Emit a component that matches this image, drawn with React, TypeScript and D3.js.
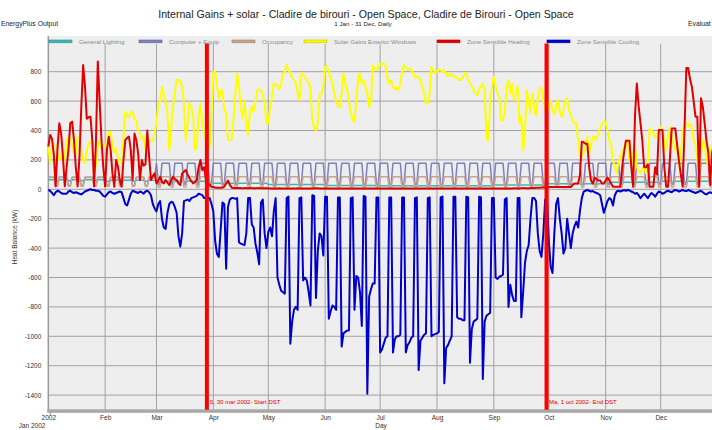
import React, { useRef, useEffect } from "react";
import * as d3 from "d3";

// bottom tick labels, the first one stands for Jan
const monthLabels = ["2002", "Feb", "Mar", "Apr", "May", "Jun", "Jul", "Aug", "Sep", "Oct", "Nov", "Dec"];
const yTicks = [800, 600, 400, 200, 0, -200, -400, -600, -800, -1000, -1200, -1400];

// daily values (kW), one row per month
const generalLighting = [
  [65, 65, 65, 65, 58, 58, 65, 65, 65, 65, 65, 58, 58, 65, 65, 65, 65, 65, 58, 58, 65, 65, 65, 65, 65, 58, 58, 65, 65, 65, 65],
  [62, 55, 55, 62, 62, 62, 62, 62, 55, 55, 62, 62, 62, 62, 62, 55, 55, 62, 62, 62, 62, 62, 55, 55, 62, 62, 62, 62],
  [55, 48, 48, 55, 55, 55, 55, 55, 48, 48, 55, 55, 55, 55, 55, 48, 48, 55, 55, 55, 55, 55, 48, 48, 55, 55, 55, 55, 55, 48, 48],
  [42, 42, 42, 42, 42, 36, 36, 42, 42, 42, 42, 42, 36, 36, 42, 42, 42, 42, 42, 36, 36, 42, 42, 42, 42, 42, 36, 36, 42, 42],
  [32, 32, 32, 27, 27, 32, 32, 32, 32, 32, 27, 27, 32, 32, 32, 32, 32, 27, 27, 32, 32, 32, 32, 32, 27, 27, 32, 32, 32, 32, 32],
  [22, 22, 26, 26, 26, 26, 26, 22, 22, 26, 26, 26, 26, 26, 22, 22, 26, 26, 26, 26, 26, 22, 22, 26, 26, 26, 26, 26, 22, 22],
  [24, 24, 24, 24, 24, 20, 20, 24, 24, 24, 24, 24, 20, 20, 24, 24, 24, 24, 24, 20, 20, 24, 24, 24, 24, 24, 20, 20, 24, 24, 24],
  [25, 25, 21, 21, 25, 25, 25, 25, 25, 21, 21, 25, 25, 25, 25, 25, 21, 21, 25, 25, 25, 25, 25, 21, 21, 25, 25, 25, 25, 25, 21],
  [25, 30, 30, 30, 30, 30, 25, 25, 30, 30, 30, 30, 30, 25, 25, 30, 30, 30, 30, 30, 25, 25, 30, 30, 30, 30, 30, 25, 25, 30],
  [38, 38, 38, 38, 32, 32, 38, 38, 38, 38, 38, 32, 32, 38, 38, 38, 38, 38, 32, 32, 38, 38, 38, 38, 38, 32, 32, 38, 38, 38, 38],
  [48, 42, 42, 48, 48, 48, 48, 48, 42, 42, 48, 48, 48, 48, 48, 42, 42, 48, 48, 48, 48, 48, 42, 42, 48, 48, 48, 48, 48, 42],
  [48, 55, 55, 55, 55, 55, 48, 48, 55, 55, 55, 55, 55, 48, 48, 55, 55, 55, 55, 55, 48, 48, 55, 55, 55, 55, 55, 48, 48, 55, 55],
];

const computerEquip = [
  [82, 82, 82, 82, 25, 25, 82, 82, 82, 82, 82, 25, 25, 82, 82, 82, 82, 82, 25, 25, 82, 82, 82, 82, 82, 25, 25, 82, 82, 82, 82],
  [82, 25, 25, 82, 82, 82, 82, 82, 25, 25, 82, 82, 82, 82, 82, 25, 25, 82, 82, 82, 82, 82, 25, 25, 82, 82, 82, 82],
  [178, 35, 35, 178, 178, 178, 178, 178, 35, 35, 178, 178, 178, 178, 178, 35, 35, 178, 178, 178, 178, 178, 35, 35, 178, 178, 178, 178, 178, 35, 35],
  [178, 178, 178, 178, 178, 35, 35, 178, 178, 178, 178, 178, 35, 35, 178, 178, 178, 178, 178, 35, 35, 178, 178, 178, 178, 178, 35, 35, 178, 178],
  [178, 178, 178, 35, 35, 178, 178, 178, 178, 178, 35, 35, 178, 178, 178, 178, 178, 35, 35, 178, 178, 178, 178, 178, 35, 35, 178, 178, 178, 178, 178],
  [35, 35, 178, 178, 178, 178, 178, 35, 35, 178, 178, 178, 178, 178, 35, 35, 178, 178, 178, 178, 178, 35, 35, 178, 178, 178, 178, 178, 35, 35],
  [178, 178, 178, 178, 178, 35, 35, 178, 178, 178, 178, 178, 35, 35, 178, 178, 178, 178, 178, 35, 35, 178, 178, 178, 178, 178, 35, 35, 178, 178, 178],
  [178, 178, 35, 35, 178, 178, 178, 178, 178, 35, 35, 178, 178, 178, 178, 178, 35, 35, 178, 178, 178, 178, 178, 35, 35, 178, 178, 178, 178, 178, 35],
  [35, 178, 178, 178, 178, 178, 35, 35, 178, 178, 178, 178, 178, 35, 35, 178, 178, 178, 178, 178, 35, 35, 178, 178, 178, 178, 178, 35, 35, 178],
  [178, 178, 178, 178, 35, 35, 178, 178, 178, 178, 178, 35, 35, 178, 178, 178, 178, 178, 35, 35, 178, 178, 178, 178, 178, 35, 35, 178, 178, 178, 178],
  [178, 35, 35, 178, 178, 178, 178, 178, 35, 35, 178, 178, 178, 178, 178, 35, 35, 178, 178, 178, 178, 178, 35, 35, 178, 178, 178, 178, 178, 35],
  [35, 178, 178, 178, 178, 178, 35, 35, 178, 178, 178, 178, 178, 35, 35, 178, 178, 178, 178, 178, 35, 35, 178, 178, 178, 178, 178, 35, 35, 178, 178],
];

const occupancy = [
  [80, 80, 80, 80, 20, 20, 80, 80, 80, 80, 80, 20, 20, 80, 80, 80, 80, 80, 20, 20, 80, 80, 80, 80, 80, 20, 20, 80, 80, 80, 80],
  [80, 20, 20, 80, 80, 80, 80, 80, 20, 20, 80, 80, 80, 80, 80, 20, 20, 80, 80, 80, 80, 80, 20, 20, 80, 80, 80, 80],
  [85, 15, 15, 85, 85, 85, 85, 85, 15, 15, 85, 85, 85, 85, 85, 15, 15, 85, 85, 85, 85, 85, 15, 15, 85, 85, 85, 85, 85, 15, 15],
  [85, 85, 85, 85, 85, 15, 15, 85, 85, 85, 85, 85, 15, 15, 85, 85, 85, 85, 85, 15, 15, 85, 85, 85, 85, 85, 15, 15, 85, 85],
  [85, 85, 85, 15, 15, 85, 85, 85, 85, 85, 15, 15, 85, 85, 85, 85, 85, 15, 15, 85, 85, 85, 85, 85, 15, 15, 85, 85, 85, 85, 85],
  [15, 15, 85, 85, 85, 85, 85, 15, 15, 85, 85, 85, 85, 85, 15, 15, 85, 85, 85, 85, 85, 15, 15, 85, 85, 85, 85, 85, 15, 15],
  [85, 85, 85, 85, 85, 15, 15, 85, 85, 85, 85, 85, 15, 15, 85, 85, 85, 85, 85, 15, 15, 85, 85, 85, 85, 85, 15, 15, 85, 85, 85],
  [85, 85, 15, 15, 85, 85, 85, 85, 85, 15, 15, 85, 85, 85, 85, 85, 15, 15, 85, 85, 85, 85, 85, 15, 15, 85, 85, 85, 85, 85, 15],
  [15, 85, 85, 85, 85, 85, 15, 15, 85, 85, 85, 85, 85, 15, 15, 85, 85, 85, 85, 85, 15, 15, 85, 85, 85, 85, 85, 15, 15, 85],
  [85, 85, 85, 85, 15, 15, 85, 85, 85, 85, 85, 15, 15, 85, 85, 85, 85, 85, 15, 15, 85, 85, 85, 85, 85, 15, 15, 85, 85, 85, 85],
  [85, 15, 15, 85, 85, 85, 85, 85, 15, 15, 85, 85, 85, 85, 85, 15, 15, 85, 85, 85, 85, 85, 15, 15, 85, 85, 85, 85, 85, 15],
  [15, 85, 85, 85, 85, 85, 15, 15, 85, 85, 85, 85, 85, 15, 15, 85, 85, 85, 85, 85, 15, 15, 85, 85, 85, 85, 85, 15, 15, 85, 85],
];

const solarGains = [
  [300, 180, 290, 310, 300, 250, 200, 220, 270, 200, 330, 358, 350, 300, 250, 240, 358, 350, 250, 200, 180, 270, 310, 320, 300, 150, 160, 300, 330, 280, 300],
  [290, 320, 392, 392, 300, 250, 280, 220, 180, 176, 350, 528, 500, 490, 520, 528, 480, 470, 400, 380, 340, 358, 270, 267, 330, 335, 330, 380],
  [448, 580, 600, 698, 650, 600, 520, 267, 400, 562, 650, 743, 743, 740, 700, 585, 335, 450, 585, 560, 495, 267, 300, 500, 585, 450, 380, 330, 300, 290, 500],
  [800, 800, 700, 620, 675, 670, 540, 520, 335, 335, 340, 470, 650, 789, 700, 560, 480, 600, 450, 369, 520, 560, 530, 600, 675, 680, 675, 650, 585, 448],
  [450, 560, 620, 721, 710, 700, 680, 720, 789, 800, 845, 812, 789, 760, 740, 720, 650, 607, 789, 780, 760, 745, 720, 700, 470, 420, 400, 450, 650, 650, 700],
  [834, 834, 800, 760, 721, 650, 600, 562, 562, 650, 789, 720, 675, 600, 520, 470, 460, 600, 760, 789, 720, 740, 700, 650, 562, 600, 845, 820, 812, 830],
  [856, 850, 856, 834, 760, 720, 740, 700, 680, 690, 675, 720, 800, 845, 830, 812, 820, 812, 790, 760, 766, 766, 740, 700, 650, 585, 585, 650, 834, 812, 789],
  [800, 812, 812, 800, 812, 790, 770, 789, 780, 770, 766, 760, 743, 743, 760, 789, 789, 750, 720, 700, 675, 650, 640, 680, 700, 720, 675, 358, 330, 600, 700],
  [765, 700, 650, 630, 470, 470, 520, 700, 743, 650, 720, 607, 650, 700, 450, 500, 267, 400, 675, 600, 520, 650, 560, 500, 620, 687, 687, 600, 560, 520],
  [580, 600, 540, 510, 560, 607, 520, 494, 540, 600, 619, 540, 500, 470, 448, 450, 330, 222, 222, 250, 300, 358, 244, 300, 358, 358, 340, 380, 420, 440, 460],
  [460, 400, 335, 300, 200, 150, 108, 180, 220, 260, 280, 290, 335, 200, 150, 250, 300, 153, 120, 110, 140, 150, 108, 200, 414, 400, 380, 358, 370, 400],
  [425, 400, 330, 267, 350, 420, 380, 300, 267, 300, 153, 250, 380, 448, 448, 430, 448, 420, 335, 300, 200, 108, 250, 335, 300, 200, 150, 250, 300, 330, 280],
];

const zoneHeating = [
  [290, 370, 345, 240, 20, 270, 450, 380, 220, 20, 150, 270, 450, 460, 335, 150, 20, 220, 560, 845, 700, 480, 490, 494, 335, 20, 330, 870, 600, 335, 150],
  [20, 270, 358, 267, 108, 18, 199, 154, 63, 18, 199, 335, 350, 358, 267, 63, 380, 335, 244, 63, 199, 160, 170, 400, 222, 63, 90, 108],
  [40, 60, 86, 50, 40, 63, 45, 29, 60, 86, 70, 63, 40, 29, 108, 120, 131, 100, 74, 55, 40, 50, 63, 150, 199, 130, 150, 63, 40, 30, 18],
  [15, 12, 10, 10, 10, 10, 20, 40, 60, 30, 12, 8, 8, 9, 8, 8, 7, 8, 8, 7, 8, 8, 7, 7, 8, 8, 7, 7, 8, 7],
  [7, 6, 6, 5, 6, 6, 7, 6, 5, 5, 6, 6, 5, 5, 6, 6, 7, 6, 6, 5, 5, 6, 6, 5, 6, 7, 8, 7, 6, 6, 5],
  [5, 5, 6, 5, 5, 5, 6, 6, 5, 5, 5, 5, 5, 6, 6, 5, 5, 5, 5, 5, 5, 6, 5, 5, 5, 5, 5, 5, 5, 5],
  [5, 5, 5, 5, 5, 5, 5, 5, 5, 5, 5, 5, 5, 5, 5, 5, 5, 5, 5, 5, 5, 5, 5, 5, 5, 5, 5, 5, 5, 5, 5],
  [5, 5, 5, 5, 5, 6, 5, 5, 5, 5, 5, 5, 5, 5, 5, 5, 5, 5, 5, 5, 5, 6, 5, 5, 5, 5, 5, 5, 5, 6, 5],
  [5, 5, 6, 6, 6, 6, 5, 5, 6, 6, 6, 7, 7, 6, 6, 8, 9, 8, 7, 7, 8, 8, 9, 10, 10, 10, 12, 12, 12, 14],
  [15, 15, 15, 15, 15, 15, 15, 15, 15, 15, 15, 15, 15, 30, 40, 40, 40, 100, 324, 320, 310, 310, 150, 60, 40, 80, 70, 60, 60, 40, 40],
  [60, 80, 60, 40, 18, 18, 18, 18, 18, 150, 250, 330, 330, 330, 150, 18, 500, 720, 565, 450, 330, 150, 150, 170, 18, 18, 18, 150, 100, 403],
  [403, 403, 150, 18, 18, 200, 413, 413, 413, 300, 190, 100, 18, 400, 825, 825, 750, 700, 600, 494, 494, 18, 620, 560, 450, 330, 250, 30, 250, 300, 250],
];

const zoneCooling = [
  [-5, -10, -25, -40, -20, -10, -15, -25, -30, -30, -30, -15, -10, -20, -25, -20, -25, -30, -35, -25, -15, -10, -5, 0, -5, -5, -10, -10, -15, -30, -45],
  [-50, -35, -20, -15, -25, -30, -25, -20, -15, -20, -60, -100, -110, -70, -30, -10, -15, -20, -25, -15, -20, -30, -15, -10, -20, -40, -100, -130],
  [-150, -100, -80, -200, -260, -270, -160, -100, -85, -90, -120, -160, -320, -390, -300, -80, -75, -70, -80, -60, -55, -50, -45, -30, -35, -40, -60, -60, -55, -60, -100],
  [-150, -350, -440, -460, -280, -90, -100, -540, -120, -70, -60, -60, -65, -60, -360, -370, -375, -380, -300, -60, -60, -240, -260, -370, -430, -510, -90, -70, -300, -400],
  [-290, -260, -320, -150, -60, -600, -650, -690, -700, -710, -60, -50, -1050, -900, -820, -800, -820, -60, -55, -620, -600, -620, -700, -790, -40, -45, -740, -420, -300, -320, -450],
  [-50, -50, -880, -830, -790, -800, -820, -55, -55, -1070, -980, -970, -960, -960, -60, -55, -820, -590, -600, -700, -930, -45, -50, -1390, -730, -680, -640, -640, -55, -55],
  [-1110, -1090, -1050, -1010, -1000, -55, -55, -1110, -1020, -1000, -1000, -990, -55, -55, -1110, -1060, -1040, -1010, -1000, -60, -55, -1230, -1030, -1010, -990, -980, -60, -55, -1000, -990, -985],
  [-980, -970, -55, -50, -1320, -1080, -1060, -1030, -1000, -50, -50, -870, -880, -880, -890, -890, -50, -55, -1180, -950, -900, -890, -880, -50, -55, -1290, -900, -860, -850, -840, -60],
  [-60, -600, -610, -595, -590, -580, -70, -60, -800, -650, -720, -760, -760, -60, -60, -870, -700, -500, -420, -380, -200, -60, -60, -80, -300, -420, -460, -300, -70, -80],
  [-350, -527, -570, -300, -100, -60, -200, -300, -437, -400, -200, -300, -400, -300, -250, -220, -260, -145, -60, -16, -10, -5, -10, -15, -12, -20, -25, -30, -40, -100, -160],
  [-120, -80, -60, -70, -110, -40, -15, -10, -15, -10, -5, -10, -5, -8, -15, -20, -30, -25, -40, -60, -45, -30, -45, -60, -40, -25, -35, -50, -30, -15],
  [-20, -30, -25, -15, -10, -15, -20, -10, -5, -8, -15, -10, -5, -10, -12, -5, -10, -15, -20, -25, -20, -15, -10, -20, -30, -35, -25, -20, -25, -30, -20],
];

const seriesNames = [
  "General Lighting",
  "Computer + Equip",
  "Occupancy",
  "Solar Gains Exterior Windows",
  "Zone Sensible Heating",
  "Zone Sensible Cooling",
];

// DST markers, where the red bars sit in the picture
const dstDates = [new Date(2002, 2, 28, 12), new Date(2002, 8, 29, 18)];
const dstLabels = ["S, 30 mar 2002- Start DST", "Ma, 1 oct 2002- End DST"];

// styling
const font = "'Liberation Sans', Arial, sans-serif";
const colors = ["#3cb8b4", "#7f80bf", "#c9a58e", "#ffff00", "#e00000", "#0000cc"];
const widths = [1.5, 1.5, 1.5, 2, 2, 2];
const legendX = [49, 139, 232, 304, 437, 547];

type Point = { date: Date; value: number };

function toPoints(months: number[][]): Point[] {
  return months.flatMap((vals, m) => vals.map((v, i) => ({ date: new Date(2002, m, i + 1), value: v })));
}

export default function App() {
  const svgRef = useRef<SVGSVGElement>(null);

  useEffect(() => {
    const svg = d3.select(svgRef.current);
    svg.selectAll("*").remove();

    const left = 48.3, right = 717.5, top = 42.3, bottom = 409.8;

    const x = d3.scaleTime()
      .domain([new Date(2002, 0, 1), new Date(2003, 0, 1)])
      .range([left, right]);
    const y = d3.scaleLinear()
      .domain([-1500, 1000])
      .range([bottom, top]);

    const monthStarts = d3.range(12).map((m) => new Date(2002, m, 1));

    // plot background
    svg.append("rect")
      .attr("x", left).attr("y", 36)
      .attr("width", right - left + 2).attr("height", bottom - 36)
      .attr("fill", "#eeeeee");

    // grid
    svg.append("g").selectAll("line")
      .data(yTicks)
      .join("line")
      .attr("x1", left).attr("x2", right + 2)
      .attr("y1", (d) => y(d)).attr("y2", (d) => y(d))
      .attr("stroke", "#a2a2a2").attr("stroke-width", 1);

    svg.append("g").selectAll("line")
      .data(monthStarts.slice(1))
      .join("line")
      .attr("x1", (d) => x(d)).attr("x2", (d) => x(d))
      .attr("y1", 44).attr("y2", bottom)
      .attr("stroke", "#a2a2a2").attr("stroke-width", 1);

    // left border and thick bottom bar
    svg.append("line")
      .attr("x1", left).attr("x2", left).attr("y1", 36).attr("y2", bottom + 2)
      .attr("stroke", "#9a9a9a").attr("stroke-width", 1.5);
    svg.append("rect")
      .attr("x", left - 1).attr("y", bottom - 0.5)
      .attr("width", right - left + 4).attr("height", 3.5)
      .attr("fill", "#a8a8a8");
    svg.append("line")
      .attr("x1", left + 2).attr("x2", left + 2).attr("y1", bottom + 2).attr("y2", bottom + 6)
      .attr("stroke", "#9a9a9a").attr("stroke-width", 1);

    // series
    const line = d3.line<Point>()
      .x((d) => x(d.date))
      .y((d) => y(d.value));

    const allSeries = [generalLighting, computerEquip, occupancy, solarGains, zoneHeating, zoneCooling];
    allSeries.forEach((s, i) => {
      svg.append("path")
        .datum(toPoints(s))
        .attr("fill", "none")
        .attr("stroke", colors[i])
        .attr("stroke-width", widths[i])
        .attr("stroke-linejoin", "round")
        .attr("d", line);
    });

    // DST markers
    dstDates.forEach((d, i) => {
      svg.append("line")
        .attr("x1", x(d)).attr("x2", x(d))
        .attr("y1", 43.5).attr("y2", bottom)
        .attr("stroke", "#ff0000").attr("stroke-width", 4);
      svg.append("text")
        .attr("x", x(d) + 2.5).attr("y", 404)
        .attr("font-family", font).attr("font-size", 6)
        .attr("fill", "#e00000")
        .text(dstLabels[i]);
    });

    // legend
    const legend = svg.append("g");
    seriesNames.forEach((name, i) => {
      legend.append("rect")
        .attr("x", legendX[i]).attr("y", 40)
        .attr("width", 23).attr("height", 2.8)
        .attr("fill", colors[i])
        .attr("stroke", d3.color(colors[i])!.darker(0.7).toString())
        .attr("stroke-width", 0.6);
      legend.append("text")
        .attr("x", legendX[i] + 30).attr("y", 41.4)
        .attr("dy", "0.35em")
        .attr("font-family", font).attr("font-size", 6.2)
        .attr("fill", "#8a8a8a")
        .text(name);
    });

    // axes
    svg.append("g")
      .attr("transform", `translate(${left},0)`)
      .call(d3.axisLeft(y).tickValues(yTicks).tickSize(0).tickPadding(7).tickFormat((d) => String(d)))
      .call((g) => g.select(".domain").remove())
      .attr("font-family", font).attr("font-size", 6.5)
      .attr("color", "#333");

    svg.append("g")
      .attr("transform", `translate(0,${bottom + 3})`)
      .call(d3.axisBottom(x).tickValues(monthStarts).tickSize(0).tickPadding(3).tickFormat((d, i) => monthLabels[i]))
      .call((g) => g.select(".domain").remove())
      .attr("font-family", font).attr("font-size", 6.5)
      .attr("color", "#333");

    // texts
    svg.append("text")
      .attr("x", 366).attr("y", 17.5)
      .attr("text-anchor", "middle")
      .attr("font-family", font).attr("font-size", 10.6)
      .attr("fill", "#222")
      .text("Internal Gains + solar - Cladire de birouri - Open Space, Cladire de Birouri - Open Space");
    svg.append("text")
      .attr("x", 363).attr("y", 26)
      .attr("text-anchor", "middle")
      .attr("font-family", font).attr("font-size", 6.2)
      .attr("fill", "#222")
      .text("1 Jan - 31 Dec, Daily");
    svg.append("text")
      .attr("x", 1).attr("y", 26)
      .attr("font-family", font).attr("font-size", 6.8)
      .attr("fill", "#222")
      .text("EnergyPlus Output");
    svg.append("text")
      .attr("x", 688).attr("y", 26)
      .attr("font-family", font).attr("font-size", 6.8)
      .attr("fill", "#222")
      .text("Evaluat");
    svg.append("text")
      .attr("transform", "translate(17,237) rotate(-90)")
      .attr("text-anchor", "middle")
      .attr("font-family", font).attr("font-size", 6.5)
      .attr("fill", "#333")
      .text("Heat Balance (kW)");
    svg.append("text")
      .attr("x", 32).attr("y", 427.5)
      .attr("text-anchor", "middle")
      .attr("font-family", font).attr("font-size", 6.5)
      .attr("fill", "#333")
      .text("Jan 2002");
    svg.append("text")
      .attr("x", 381).attr("y", 428)
      .attr("text-anchor", "middle")
      .attr("font-family", font).attr("font-size", 6.5)
      .attr("fill", "#333")
      .text("Day");
  }, []);

  return (
    <svg
      ref={svgRef}
      width={712}
      height={430}
      style={{ position: "absolute", left: 0, top: 0, background: "#fff" }}
    />
  );
}
